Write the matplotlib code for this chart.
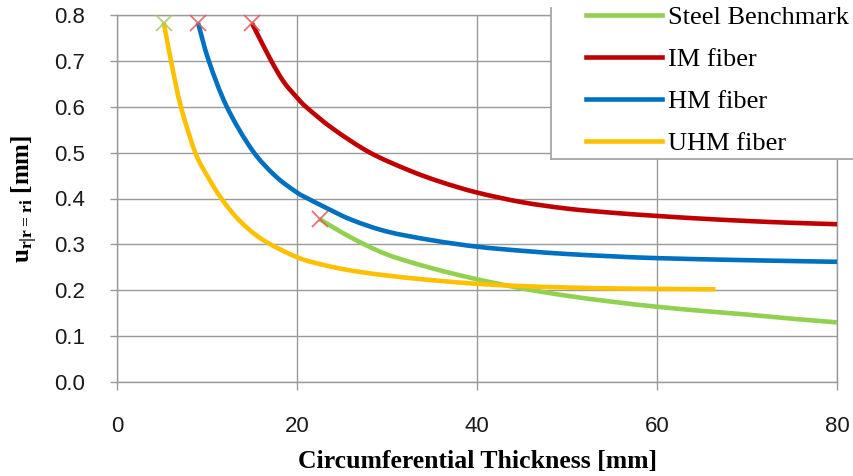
import matplotlib
matplotlib.use("Agg")
import matplotlib.pyplot as plt
import numpy as np
from matplotlib.patches import Rectangle, PathPatch
from matplotlib.lines import Line2D
from matplotlib.path import Path

# radial displacement at the inner radius vs. circumferential thickness
steel_t = [22.5, 26, 30, 35, 40, 45, 50, 55, 60, 65, 70, 75, 80]
steel_u = [0.355, 0.315, 0.278, 0.248, 0.224, 0.204, 0.188, 0.175, 0.164, 0.155, 0.147, 0.138, 0.130]

im_t = [15.0, 17.0, 18.5, 20, 21.1, 24, 28.1, 32.5, 36, 40, 45, 50, 55, 60, 65, 70, 75, 80]
im_u = [0.782, 0.705, 0.655, 0.620, 0.598, 0.552, 0.50, 0.461, 0.436, 0.413, 0.392, 0.378, 0.369, 0.362, 0.356, 0.351, 0.347, 0.344]

hm_t = [9.0, 10.2, 12.2, 15.0, 17.6, 20, 21.2, 23, 26, 30, 35, 40, 45, 50, 55, 60, 70, 80]
hm_u = [0.783, 0.70, 0.60, 0.506, 0.449, 0.413, 0.40, 0.382, 0.354, 0.328, 0.309, 0.295, 0.286, 0.279, 0.274, 0.270, 0.2655, 0.262]

uhm_t = [5.2, 6.0, 7.1, 8.7, 10.1, 11.6, 13.6, 16.2, 20, 23, 26, 30, 35, 40, 45, 50, 55, 60, 66.5]
uhm_u = [0.783, 0.70, 0.60, 0.50, 0.447, 0.40, 0.352, 0.31, 0.272, 0.255, 0.243, 0.232, 0.222, 0.214, 0.209, 0.206, 0.204, 0.203, 0.202]

labels = ["Steel Benchmark", "IM fiber", "HM fiber", "UHM fiber"]
colors = ["#92D050", "#C00000", "#0070C0", "#FFC000"]

x_ticks = [0, 20, 40, 60, 80]
y_ticks = [0.0, 0.1, 0.2, 0.3, 0.4, 0.5, 0.6, 0.7, 0.8]

plt.rcParams["mathtext.fontset"] = "custom"
plt.rcParams["mathtext.rm"] = "Liberation Serif"
plt.rcParams["mathtext.bf"] = "Liberation Serif:bold"

grid_col = "#9a9a9a"


def smooth_path(t, u):
    # smoothed line through the points (Catmull-Rom as cubic Bezier segments)
    p = np.column_stack([t, u])
    n = len(p)
    verts = [p[0]]
    codes = [Path.MOVETO]
    for i in range(n - 1):
        p0 = p[i - 1] if i > 0 else p[i]
        p1, p2 = p[i], p[i + 1]
        p3 = p[i + 2] if i + 2 < n else p[i + 1]
        verts += [p1 + (p2 - p0) / 6, p2 - (p3 - p1) / 6, p2]
        codes += [Path.CURVE4] * 3
    return Path(verts, codes)


fig = plt.figure(figsize=(8.54, 4.76), dpi=100)
ax = fig.add_axes([117 / 854, 1 - 382 / 476, 720 / 854, 367 / 476])

series = [(steel_t, steel_u), (im_t, im_u), (hm_t, hm_u), (uhm_t, uhm_u)]
handles = []
for (t, u), lab, c in zip(series, labels, colors):
    ax.add_patch(PathPatch(smooth_path(t, u), fill=False, edgecolor=c, lw=3.3,
                           capstyle="butt", zorder=3))
    handles.append(Line2D([], [], color=c, lw=3.3, label=lab))

# start points of each curve
start_cols = ["#e05a5a", "#e05a5a", "#e05a5a", "#a8c868"]
for (t, u), c in zip(series, start_cols):
    ax.plot(t[0], u[0], marker="x", ms=12, mew=1.3, color=c, alpha=0.85,
            ls="none", zorder=4, clip_on=False)

ax.set_xlim(0, 80)
ax.set_ylim(0, 0.8)
ax.set_xticks(x_ticks)
ax.set_yticks(y_ticks)
ax.set_yticklabels([f"{v:.1f}" for v in y_ticks])
ax.grid(True, color=grid_col, lw=1.0)
ax.set_axisbelow(True)
for s in ax.spines.values():
    s.set_color(grid_col)
    s.set_linewidth(1.0)

ax.tick_params(axis="x", direction="out", length=6, width=1.0, color=grid_col,
               pad=18.5, labelsize=16, labelcolor="#1a1a1a")
ax.tick_params(axis="y", direction="out", length=5, width=1.0, color=grid_col,
               pad=18, labelsize=16, labelcolor="#1a1a1a")
for lbl in ax.get_xticklabels() + ax.get_yticklabels():
    lbl.set_fontfamily("Liberation Sans")

ax.set_xlabel("Circumferential Thickness [mm]", fontfamily="Liberation Serif",
              fontweight="bold", fontsize=18.5)
ax.xaxis.set_label_coords(0.5, -0.185)
ax.set_ylabel(r"$\mathbf{u_{r|r=ri}}$ [mm]", fontfamily="Liberation Serif",
              fontweight="bold", fontsize=18)
ax.yaxis.set_label_coords(-0.107, 0.5)

# legend box, running off the top right corner
lx, ly = 551 / 854, 1 - 159 / 476
fig.add_artist(Rectangle((lx, ly), 1.0, 1.0, transform=fig.transFigure,
                         facecolor="white", edgecolor="none", zorder=2))
fig.add_artist(Line2D([lx, lx], [ly, 1 - 8 / 476], transform=fig.transFigure,
                      color="#a6a6a6", lw=1.3, zorder=3))
fig.add_artist(Line2D([lx, 1.0], [ly, ly], transform=fig.transFigure,
                      color="#a6a6a6", lw=1.3, zorder=3))

fig.legend(handles=handles, loc="upper left", bbox_to_anchor=(586 / 854, 1 - 5.5 / 476),
           frameon=False, borderpad=0, borderaxespad=0, handlelength=2.88,
           handletextpad=0.23, labelspacing=0.70,
           prop={"family": "Liberation Serif", "size": 19})

fig.savefig("out.png", dpi=100)
